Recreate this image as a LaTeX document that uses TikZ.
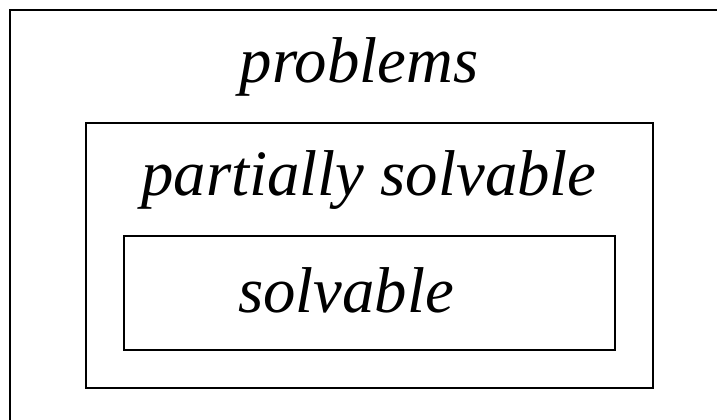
\documentclass[tikz,border=0pt]{standalone}
\usepackage{fontspec}
\setmainfont{Liberation Serif}
\usetikzlibrary{positioning}

\begin{document}
\begin{tikzpicture}[x=1bp, y=-1bp, line width=2bp,
    every node/.style={font=\fontsize{65}{70}\selectfont\itshape, inner sep=0pt, anchor=base}]
  % page frame, outer box runs off the right and bottom
  \clip (0,0) rectangle (717,419);
  \draw (10,10) rectangle (740,440);
  \draw (86,123) rectangle (653,388);
  \draw (124,236) rectangle (615,350);
  \node (problems) at (359,82) {problems};
  \node (partial) at (369,195) {partially solvable};
  \node (solvable) at (346,312) {solvable};
\end{tikzpicture}
\end{document}
